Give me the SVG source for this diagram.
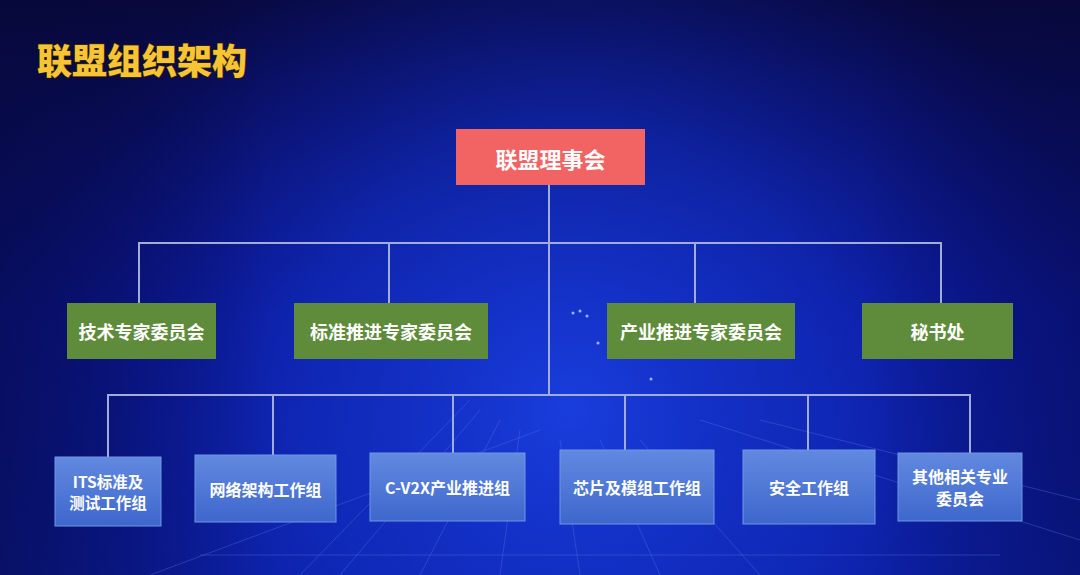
<svg xmlns="http://www.w3.org/2000/svg" width="1080" height="575" viewBox="0 0 1080 575">
  <defs>
    <linearGradient id="bgLin" x1="0" y1="0" x2="0" y2="1">
      <stop offset="0" stop-color="#08083a"/>
      <stop offset="0.55" stop-color="#0a1590"/>
      <stop offset="1" stop-color="#0a1c9c"/>
    </linearGradient>
    <radialGradient id="bgGlow" cx="570" cy="410" r="560" gradientUnits="userSpaceOnUse">
      <stop offset="0" stop-color="#1a3fe0" stop-opacity="0.95"/>
      <stop offset="0.5" stop-color="#1230c8" stop-opacity="0.6"/>
      <stop offset="1" stop-color="#0a1590" stop-opacity="0"/>
    </radialGradient>
    <linearGradient id="vignette" x1="0" y1="0" x2="1" y2="0">
      <stop offset="0" stop-color="#06083a" stop-opacity="0.55"/>
      <stop offset="0.25" stop-color="#06083a" stop-opacity="0"/>
      <stop offset="0.8" stop-color="#06083a" stop-opacity="0"/>
      <stop offset="1" stop-color="#06083a" stop-opacity="0.35"/>
    </linearGradient>
    <linearGradient id="blueBox" x1="0" y1="0" x2="0" y2="1">
      <stop offset="0" stop-color="#6289df"/>
      <stop offset="1" stop-color="#3e67cd"/>
    </linearGradient>
    <style>
      .title { font-family: "Noto Sans CJK SC", "Noto Sans", sans-serif; font-weight: 900; font-size: 35px; fill: #f7c436; stroke: #3a2a00; stroke-width: 1.4px; paint-order: stroke; }
      .lbl { font-family: "Noto Sans CJK SC", "Noto Sans", sans-serif; font-weight: 700; fill: #ffffff; text-anchor: middle; dominant-baseline: central; }
      .red { fill: #f26464; }
      .green { fill: #5e8c3a; }
      .blue { fill: url(#blueBox); stroke: #7196e6; stroke-width: 1; }
      .conn { stroke: #a3acd8; stroke-width: 2; fill: none; }
      .deco { stroke: #5b78e8; stroke-width: 1; opacity: 0.35; fill: none; }
    </style>
  </defs>

  <!-- background -->
  <rect x="0" y="0" width="1080" height="575" fill="url(#bgLin)"/>
  <rect x="0" y="0" width="1080" height="575" fill="url(#bgGlow)"/>
  <rect x="0" y="0" width="1080" height="575" fill="url(#vignette)"/>
  <g id="decoration">
    <path class="deco" d="M300 575 L470 400 M340 575 L480 410 M420 575 L500 420 M500 575 L520 430 M580 575 L560 440 M660 575 L600 440 M760 575 L640 440 M1080 540 L700 420 M1080 500 L760 420 M200 555 L1000 555 M150 575 L540 430"/>
    <circle cx="573" cy="313" r="1.5" fill="#9fb4ff"/>
    <circle cx="580" cy="311" r="1.5" fill="#9fb4ff"/>
    <circle cx="587" cy="316" r="1.5" fill="#9fb4ff"/>
    <circle cx="598" cy="343" r="1.5" fill="#9fb4ff"/>
    <circle cx="651" cy="379" r="1.5" fill="#9fb4ff"/>
  </g>

  <text class="title" x="37" y="74">联盟组织架构</text>

  <g id="connectors">
    <path class="conn" d="M549 185 V395"/>
    <path class="conn" d="M139 303 V243 H941 V303"/>
    <path class="conn" d="M389 243 V303"/>
    <path class="conn" d="M695 243 V303"/>
    <path class="conn" d="M108 457 V395 H970 V453"/>
    <path class="conn" d="M273 395 V455"/>
    <path class="conn" d="M453 395 V453"/>
    <path class="conn" d="M625 395 V450"/>
    <path class="conn" d="M808 395 V450"/>
  </g>

  <g id="n-council">
    <rect class="red" x="456" y="129" width="189" height="56"/>
    <text class="lbl" x="550.5" y="158" font-size="22" fill="#fdeaea">联盟理事会</text>
  </g>

  <g id="n-tech">
    <rect class="green" x="67" y="303" width="149" height="56"/>
    <text class="lbl" x="141.5" y="331" font-size="18">技术专家委员会</text>
  </g>
  <g id="n-std">
    <rect class="green" x="294" y="303" width="194" height="56"/>
    <text class="lbl" x="391" y="331" font-size="18">标准推进专家委员会</text>
  </g>
  <g id="n-ind">
    <rect class="green" x="607" y="303" width="188" height="56"/>
    <text class="lbl" x="701" y="331" font-size="18">产业推进专家委员会</text>
  </g>
  <g id="n-sec">
    <rect class="green" x="862" y="303" width="151" height="56"/>
    <text class="lbl" x="937.5" y="331" font-size="18">秘书处</text>
  </g>

  <g id="n-its">
    <rect class="blue" x="55" y="457" width="106" height="69"/>
    <text class="lbl" x="108" y="481" font-size="15.5">ITS标准及</text>
    <text class="lbl" x="108" y="502" font-size="15.5">测试工作组</text>
  </g>
  <g id="n-net">
    <rect class="blue" x="195" y="455" width="141" height="67"/>
    <text class="lbl" x="265.5" y="488.5" font-size="16">网络架构工作组</text>
  </g>
  <g id="n-cv2x">
    <rect class="blue" x="370" y="453" width="155" height="68"/>
    <text class="lbl" x="447.5" y="487" font-size="16">C-V2X产业推进组</text>
  </g>
  <g id="n-chip">
    <rect class="blue" x="560" y="450" width="154" height="74"/>
    <text class="lbl" x="637" y="487" font-size="16">芯片及模组工作组</text>
  </g>
  <g id="n-safe">
    <rect class="blue" x="743" y="450" width="132" height="74"/>
    <text class="lbl" x="809" y="487" font-size="16">安全工作组</text>
  </g>
  <g id="n-other">
    <rect class="blue" x="898" y="453" width="124" height="68"/>
    <text class="lbl" x="960" y="476" font-size="16">其他相关专业</text>
    <text class="lbl" x="960" y="498" font-size="16">委员会</text>
  </g>
</svg>
